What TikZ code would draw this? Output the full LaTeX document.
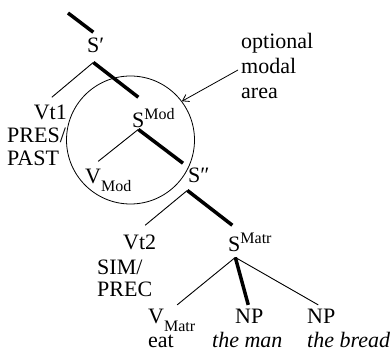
\documentclass[tikz,border=0pt]{standalone}
\usepackage{fontspec}
\setmainfont{Liberation Serif}
\usetikzlibrary{arrows.meta}
\newcommand\bigf{\fontsize{22}{25}\selectfont}
\newcommand\smf{\fontsize{16}{18}\selectfont}
\newcommand\supx[1]{\rlap{\smash{\raisebox{8pt}{\smf #1}}}}
\newcommand\subx[2]{\rlap{\smash{\raisebox{-#1pt}{\smf #2}}}}
\begin{document}
\begin{tikzpicture}[x=1pt,y=-1pt,
  every node/.style={inner sep=0pt, font=\bigf},
  lbl/.style={anchor=base west},
  heavy/.style={line width=3.5pt},
  light/.style={line width=0.9pt},
  area/.style={draw, circle, line width=0.8pt, minimum size=128pt}]
\useasboundingbox (0,0) rectangle (392,353);
\coordinate (top) at (68,13);
\node[lbl] (Sp) at (87,53) {S\rlap{′}};
\node[anchor=base east] (Vt1) at (67,120) {Vt1};
\node[lbl] (pres) at (7,143) {PRES/};
\node[lbl] (past) at (7,166) {PAST};
\node[lbl] (SMod) at (132,128) {S\supx{Mod}};
\node[lbl] (VMod) at (85,184) {V\subx{8}{Mod}};
\node[lbl] (Spp) at (188,183) {S\rlap{″}};
\node[lbl] (Vt2) at (123,250) {Vt2};
\node[lbl] (sim) at (97,275) {SIM/};
\node[lbl] (prec) at (97,297) {PREC};
\node[lbl] (SMatr) at (228,252) {S\supx{Matr}};
\node[lbl] (VMatr) at (148,324) {V\subx{8}{Matr}};
\node[lbl] (eat) at (148,348) {eat};
\node[lbl] (NP1) at (235,324) {NP};
\node[lbl] (man) at (212,348) {\itshape the man};
\node[lbl] (NP2) at (307,324) {NP};
\node[lbl] (bread) at (307,348) {\itshape the bread};
\node[lbl] (opt1) at (241,49) {optional};
\node[lbl] (opt2) at (241,74) {modal};
\node[lbl] (opt3) at (241,99) {area};
\node[area] (modal) at (130.5,140) {};
% connectors
\draw[heavy] (top) -- ([yshift=6pt]Sp.north);
\draw[light] ([yshift=-9pt]Sp.south) -- ([xshift=1.5pt,yshift=8pt]Vt1.north);
\draw[heavy] ([yshift=-9pt]Sp.south) -- ([yshift=16pt]SMod.north);
\draw[light] ([yshift=-1pt]SMod.south) -- ([xshift=5pt,yshift=8pt]VMod.north);
\draw[heavy] ([yshift=-1pt]SMod.south) -- ([xshift=-5pt,yshift=5pt]Spp.north west);
\draw[light] ([xshift=-7pt,yshift=-7pt]Spp.south) -- ([xshift=5.5pt,yshift=10pt]Vt2.north);
\draw[heavy] ([xshift=-7pt,yshift=-7pt]Spp.south) -- ([xshift=-2pt,yshift=12pt]SMatr.north);
\draw[light] ([xshift=1pt,yshift=-5pt]SMatr.south) -- ([xshift=21pt,yshift=4.5pt]VMatr.north);
\draw[heavy] ([xshift=1pt,yshift=-5pt]SMatr.south) -- ([xshift=-1pt,yshift=4.5pt]NP1.north);
\draw[light] ([xshift=1pt,yshift=-5pt]SMatr.south) -- ([xshift=-3pt,yshift=4.5pt]NP2.north);
\draw[-{Straight Barb[length=6pt,width=8pt]}, line width=0.8pt] ([xshift=-3pt,yshift=4pt]opt2.base west) -- (modal.37);
\end{tikzpicture}
\end{document}
